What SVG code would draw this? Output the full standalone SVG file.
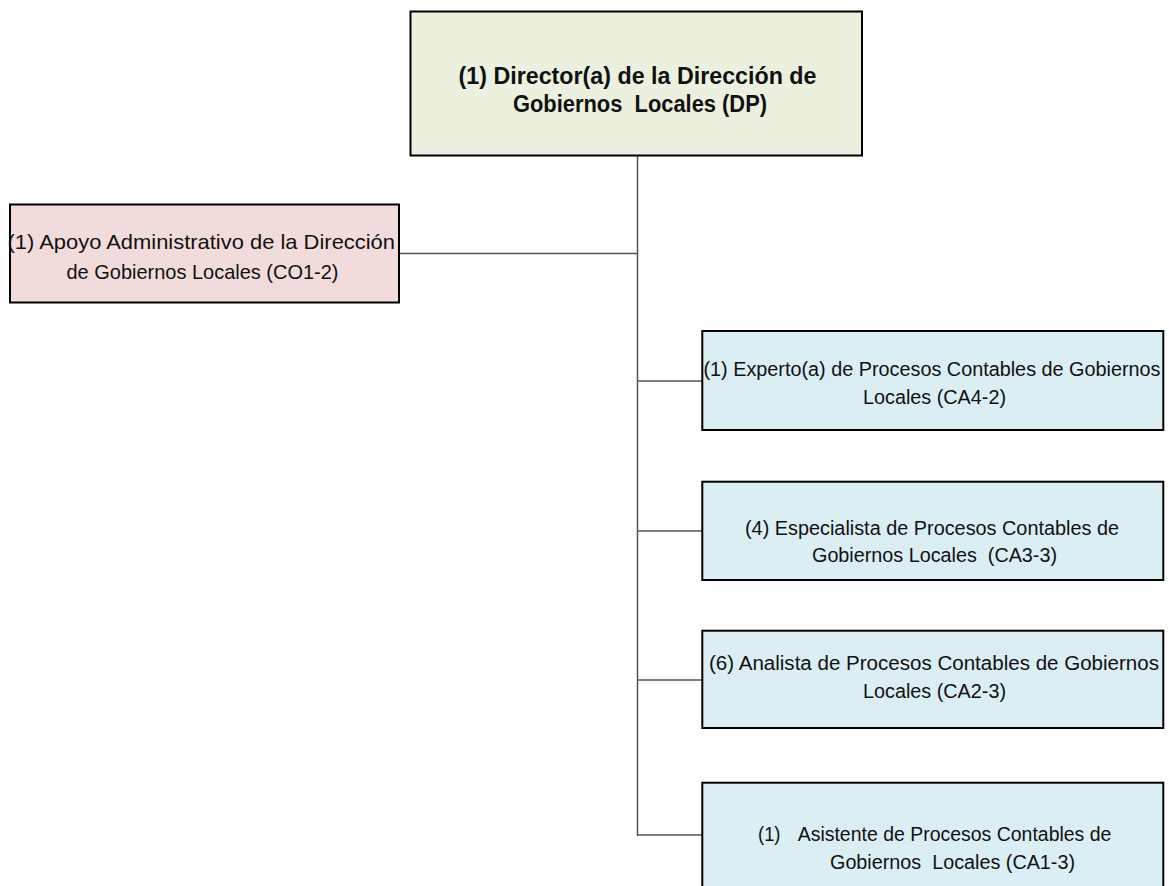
<svg xmlns="http://www.w3.org/2000/svg" width="1169" height="886" viewBox="0 0 1169 886">
<style>
.box{stroke:#000;stroke-width:2}
.top{fill:#EBF1DE}
.side{fill:#F2DCDB}
.staff{fill:#DBEEF4}
.t{font-family:"Liberation Sans",Arial,sans-serif;fill:#111;white-space:pre}
.b{font-weight:bold;font-size:23px}
.l{font-size:21px}
.r{font-size:20px}
.conn line{stroke:#555;stroke-width:1.5;fill:none}
</style>
<rect width="1169" height="886" fill="#fff"/>
<g id="connectors" class="conn">
<line x1="637.5" y1="156" x2="637.5" y2="835.5"/>
<line x1="399" y1="253.5" x2="637.5" y2="253.5"/>
<line x1="637.5" y1="381" x2="702" y2="381"/>
<line x1="637.5" y1="531" x2="702" y2="531"/>
<line x1="637.5" y1="680" x2="702" y2="680"/>
<line x1="636.8" y1="835" x2="702" y2="835"/>
</g>
<g id="director">
<rect class="box top" x="410.5" y="11.5" width="451.5" height="144"/>
<text class="t b" x="458.5" y="84" textLength="358" lengthAdjust="spacingAndGlyphs">(1) Director(a) de la Dirección de</text>
<text class="t b" x="513" y="112" textLength="254" lengthAdjust="spacingAndGlyphs">Gobiernos  Locales (DP)</text>
</g>
<g id="apoyo">
<rect class="box side" x="10" y="204.5" width="389" height="98"/>
<text class="t l" x="7.5" y="248.5" textLength="387.5" lengthAdjust="spacingAndGlyphs">(1) Apoyo Administrativo de la Dirección</text>
<text class="t l" x="66.5" y="278.5" textLength="272" lengthAdjust="spacingAndGlyphs">de Gobiernos Locales (CO1-2)</text>
</g>
<g id="experto">
<rect class="box staff" x="702.3" y="331" width="461" height="99"/>
<text class="t r" x="703.5" y="376" textLength="457" lengthAdjust="spacingAndGlyphs">(1) Experto(a) de Procesos Contables de Gobiernos</text>
<text class="t r" x="863" y="404" textLength="143" lengthAdjust="spacingAndGlyphs">Locales (CA4-2)</text>
</g>
<g id="especialista">
<rect class="box staff" x="702.3" y="481.7" width="461" height="98.3"/>
<text class="t r" x="745" y="535" textLength="374" lengthAdjust="spacingAndGlyphs">(4) Especialista de Procesos Contables de</text>
<text class="t r" x="812" y="562" textLength="245" lengthAdjust="spacingAndGlyphs">Gobiernos Locales  (CA3-3)</text>
</g>
<g id="analista">
<rect class="box staff" x="702.3" y="630.7" width="461" height="97.3"/>
<text class="t r" x="709" y="670" textLength="450" lengthAdjust="spacingAndGlyphs">(6) Analista de Procesos Contables de Gobiernos</text>
<text class="t r" x="863" y="698" textLength="143" lengthAdjust="spacingAndGlyphs">Locales (CA2-3)</text>
</g>
<g id="asistente">
<rect class="box staff" x="702.3" y="782.7" width="461" height="120"/>
<text class="t r" x="758" y="840.5" textLength="22.5" lengthAdjust="spacingAndGlyphs">(1)</text>
<text class="t r" x="797.7" y="840.5" textLength="313.7" lengthAdjust="spacingAndGlyphs">Asistente de Procesos Contables de</text>
<text class="t r" x="830" y="868.5" textLength="245" lengthAdjust="spacingAndGlyphs">Gobiernos  Locales (CA1-3)</text>
</g>
</svg>
